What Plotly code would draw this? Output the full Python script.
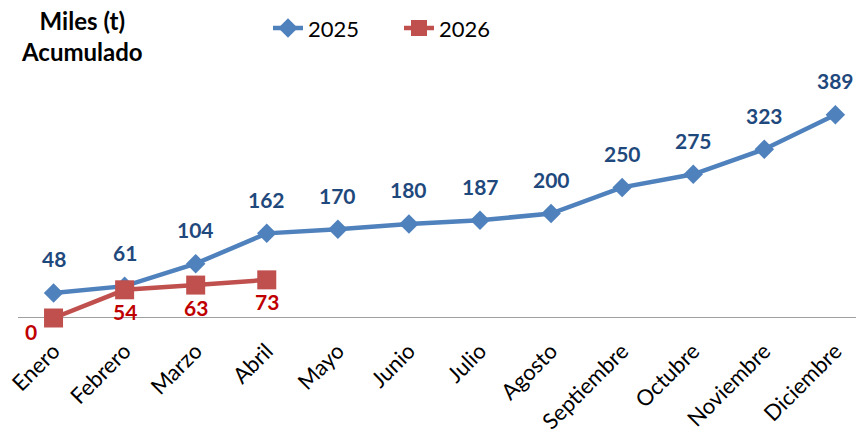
import plotly.graph_objects as go

months = ["Enero", "Febrero", "Marzo", "Abril", "Mayo", "Junio", "Julio",
          "Agosto", "Septiembre", "Octubre", "Noviembre", "Diciembre"]
v2025 = [48, 61, 104, 162, 170, 180, 187, 200, 250, 275, 323, 389]
v2026 = [0, 54, 63, 73]

BLUE = "#4F81BD"
RED = "#C0504D"
BLUE_TXT = "#1F497D"
RED_TXT = "#C00000"
FONT = "Lato"

W, H = 856, 434
L, R, T, B = 18, 0, 109, 115.5
PW, PH = W - L - R, H - T - B

fig = go.Figure()
fig.add_trace(go.Scatter(
    x=months, y=v2025, name="2025", mode="lines+markers",
    line=dict(color=BLUE, width=4.5),
    marker=dict(symbol="diamond", size=15, color=BLUE),
    cliponaxis=False,
))
fig.add_trace(go.Scatter(
    x=months[:len(v2026)], y=v2026, name="2026", mode="lines+markers",
    line=dict(color=RED, width=4.5),
    marker=dict(symbol="square", size=19, color=RED),
    cliponaxis=False,
))

annotations = []
for m, v in zip(months, v2025):
    annotations.append(dict(x=m, y=v, text=str(v), showarrow=False, yshift=34,
                            font=dict(family=FONT, size=21, color=BLUE_TXT, weight="bold")))
for i, (m, v) in enumerate(zip(months, v2026)):
    annotations.append(dict(x=m, y=v, text=str(v), showarrow=False,
                            yshift=-13 if i == 0 else -22, xshift=-23 if i == 0 else 0,
                            font=dict(family=FONT, size=21, color=RED_TXT, weight="bold")))
annotations.append(dict(xref="paper", yref="paper", x=(82 - L) / PW,
                        y=(H - B - 36) / PH, yanchor="middle", xanchor="center",
                        showarrow=False, text="Miles (t)<br>Acumulado", align="center",
                        font=dict(family=FONT, size=24, color="black", weight="bold")))

fig.update_layout(
    width=W, height=H,
    margin=dict(l=L, r=R, t=T, b=B, autoexpand=False),
    paper_bgcolor="white", plot_bgcolor="white",
    font=dict(family=FONT, size=22, color="black"),
    showlegend=True,
    legend=dict(orientation="h", x=(268 - L) / PW, xanchor="left",
                y=(H - B - 28) / PH, yanchor="middle",
                font=dict(family=FONT, size=22, color="black"),
                bgcolor="rgba(0,0,0,0)", itemwidth=30,
                entrywidth=86, entrywidthmode="pixels"),
    annotations=annotations,
    xaxis=dict(range=[-0.5, 11.29], showgrid=False, showline=False, ticks="",
               tickangle=-45, tickfont=dict(family=FONT, size=22, color="black"),
               ticklabelstandoff=15,
               zeroline=False, automargin=False),
    yaxis=dict(range=[0, 400], showgrid=False, showticklabels=False,
               zeroline=False, showline=False, ticks="", automargin=False),
    shapes=[dict(type="line", xref="paper", yref="y", x0=0, x1=1, y0=0, y1=0,
                 line=dict(color="#A0A0A0", width=2), layer="below")],
)
fig.write_html("out.html", config={"displayModeBar": False},
               post_script="document.body.style.margin='0';"
                           "document.body.style.overflow='hidden';")
